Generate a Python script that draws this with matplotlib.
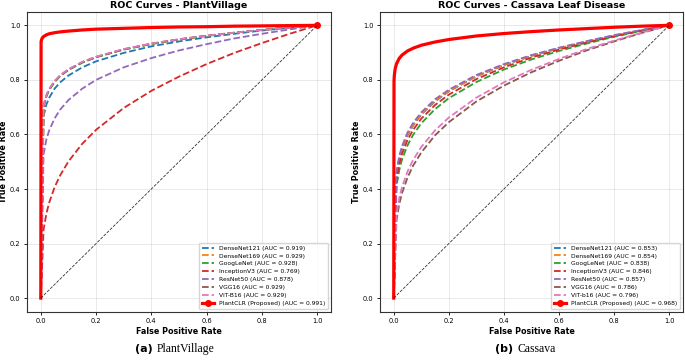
import matplotlib
matplotlib.use("Agg")
import matplotlib.pyplot as plt

# ---------------- data ----------------
fpr = [0, 0.01, 0.02, 0.03, 0.05, 0.07, 0.1, 0.15, 0.2, 0.3, 0.4, 0.5, 0.6, 0.7, 0.8, 0.9, 1.0]
fpr_prop = [0, 0.001, 0.002, 0.005, 0.01, 0.02, 0.03, 0.05, 0.07, 0.1, 0.15, 0.2,
            0.3, 0.4, 0.5, 0.6, 0.7, 0.8, 0.9, 1.0]

models = ["DenseNet121", "DenseNet169", "GoogLeNet", "InceptionV3", "ResNet50", "VGG16"]

# PlantVillage
pv_auc = [0.919, 0.929, 0.928, 0.769, 0.878, 0.929, 0.929]
pv_vit_name = "ViT-B16"
pv_densenet121 = [0, 0.667, 0.709, 0.734, 0.768, 0.791, 0.816, 0.846, 0.868, 0.899, 0.923, 0.941, 0.956, 0.969, 0.981, 0.991, 1.0]
pv_densenet169 = [0, 0.703, 0.741, 0.765, 0.795, 0.816, 0.838, 0.865, 0.884, 0.912, 0.932, 0.948, 0.962, 0.973, 0.983, 0.992, 1.0]
pv_googlenet = [0, 0.700, 0.738, 0.762, 0.792, 0.814, 0.836, 0.863, 0.883, 0.911, 0.931, 0.948, 0.961, 0.973, 0.983, 0.992, 1.0]
pv_inceptionv3 = [0, 0.251, 0.309, 0.349, 0.407, 0.450, 0.501, 0.566, 0.617, 0.697, 0.760, 0.812, 0.858, 0.899, 0.935, 0.969, 1.0]
pv_resnet50 = [0, 0.527, 0.581, 0.614, 0.659, 0.691, 0.726, 0.768, 0.800, 0.846, 0.880, 0.908, 0.931, 0.952, 0.969, 0.985, 1.0]
pv_vgg16 = [0, 0.704, 0.742, 0.765, 0.795, 0.816, 0.838, 0.865, 0.884, 0.912, 0.933, 0.949, 0.962, 0.973, 0.983, 0.992, 1.0]
pv_vit = [0, 0.705, 0.743, 0.766, 0.796, 0.817, 0.839, 0.866, 0.885, 0.913, 0.933, 0.949, 0.962, 0.973, 0.983, 0.992, 1.0]
pv_prop_auc = 0.991
pv_prop = [0, 0.939, 0.945, 0.953, 0.959, 0.965, 0.969, 0.973, 0.976, 0.979, 0.983, 0.986,
           0.989, 0.992, 0.994, 0.995, 0.997, 0.998, 0.999, 1.0]

# Cassava
cs_auc = [0.853, 0.854, 0.838, 0.846, 0.857, 0.786, 0.796]
cs_vit_name = "ViT-b16"
cs_densenet121 = [0, 0.452, 0.510, 0.547, 0.597, 0.632, 0.673, 0.721, 0.758, 0.813, 0.854, 0.888, 0.916, 0.940, 0.962, 0.982, 1.0]
cs_densenet169 = [0, 0.455, 0.512, 0.549, 0.599, 0.635, 0.675, 0.723, 0.759, 0.814, 0.855, 0.888, 0.916, 0.941, 0.963, 0.982, 1.0]
cs_googlenet = [0, 0.411, 0.469, 0.508, 0.560, 0.598, 0.641, 0.693, 0.733, 0.792, 0.838, 0.875, 0.906, 0.933, 0.958, 0.980, 1.0]
cs_inceptionv3 = [0, 0.433, 0.491, 0.528, 0.580, 0.616, 0.658, 0.708, 0.746, 0.803, 0.846, 0.882, 0.911, 0.937, 0.960, 0.981, 1.0]
cs_resnet50 = [0, 0.464, 0.521, 0.557, 0.607, 0.642, 0.681, 0.729, 0.764, 0.818, 0.858, 0.891, 0.918, 0.942, 0.964, 0.983, 1.0]
cs_vgg16 = [0, 0.285, 0.345, 0.385, 0.442, 0.485, 0.534, 0.597, 0.645, 0.721, 0.779, 0.828, 0.870, 0.908, 0.941, 0.972, 1.0]
cs_vit = [0, 0.307, 0.367, 0.407, 0.464, 0.506, 0.554, 0.615, 0.662, 0.735, 0.791, 0.837, 0.877, 0.913, 0.944, 0.973, 1.0]
cs_prop_auc = 0.968
cs_prop = [0, 0.796, 0.815, 0.840, 0.859, 0.879, 0.891, 0.906, 0.916, 0.927, 0.939, 0.948,
           0.961, 0.970, 0.977, 0.983, 0.988, 0.993, 0.997, 1.0]

colors = ["#1f77b4", "#ff7f0e", "#2ca02c", "#d62728", "#9467bd", "#8c564b", "#e377c2"]

fig = plt.figure(figsize=(6.85, 3.6), dpi=100)
ax1 = fig.add_axes([0.0394, 0.134, 0.4438, 0.8335])
ax2 = fig.add_axes([0.5547, 0.134, 0.4423, 0.8335])


def draw(ax, curves, aucs, vit_name, prop, prop_auc, title):
    names = models + [vit_name]
    for i, (name, tpr) in enumerate(zip(names, curves)):
        ax.plot(fpr, tpr, linestyle="--", color=colors[i], lw=1.3,
                label=f"{name} (AUC = {aucs[i]:.3f})")
    ax.plot(fpr_prop, prop, color="red", lw=2.3, marker="o", markersize=4,
            markevery=[len(fpr_prop) - 1],
            label=f"PlantCLR (Proposed) (AUC = {prop_auc:.3f})")
    ax.plot([0, 1], [0, 1], "k--", lw=0.6, alpha=0.8)
    ax.set_xlim(-0.05, 1.05)
    ax.set_ylim(-0.05, 1.05)
    ax.set_xticks([0, 0.2, 0.4, 0.6, 0.8, 1.0])
    ax.set_yticks([0, 0.2, 0.4, 0.6, 0.8, 1.0])
    ax.tick_params(labelsize=4.8, length=2.5, width=0.6, pad=2)
    ax.grid(True, color="#cccccc", alpha=0.5, lw=0.6)
    ax.set_xlabel("False Positive Rate", fontsize=5.8, fontweight="bold", labelpad=2)
    ax.set_ylabel("True Positive Rate", fontsize=5.8, fontweight="bold", labelpad=1.5)
    ax.set_title(title, fontsize=6.8, fontweight="bold", pad=3)
    for s in ax.spines.values():
        s.set_linewidth(0.8)
        s.set_color("#333333")
    ax.legend(loc="lower right", fontsize=4.3, framealpha=0.8, borderpad=0.5,
              labelspacing=0.45, handlelength=2.0)


draw(ax1, [pv_densenet121, pv_densenet169, pv_googlenet, pv_inceptionv3,
           pv_resnet50, pv_vgg16, pv_vit], pv_auc, pv_vit_name, pv_prop, pv_prop_auc,
     "ROC Curves - PlantVillage")
draw(ax2, [cs_densenet121, cs_densenet169, cs_googlenet, cs_inceptionv3,
           cs_resnet50, cs_vgg16, cs_vit], cs_auc, cs_vit_name, cs_prop, cs_prop_auc,
     "ROC Curves - Cassava Leaf Disease")

cap_y = 1 - 349 / 360
fig.text(153 / 685, cap_y, "(a)", fontsize=8, fontweight="bold", ha="right", va="center")
fig.text(157 / 685, cap_y, "PlantVillage", fontsize=8.4, family="Liberation Serif",
         ha="left", va="center")
fig.text(513 / 685, cap_y, "(b)", fontsize=8, fontweight="bold", ha="right", va="center")
fig.text(518 / 685, cap_y, "Cassava", fontsize=8.4, family="Liberation Serif",
         ha="left", va="center")

fig.savefig("out.png", dpi=100)
